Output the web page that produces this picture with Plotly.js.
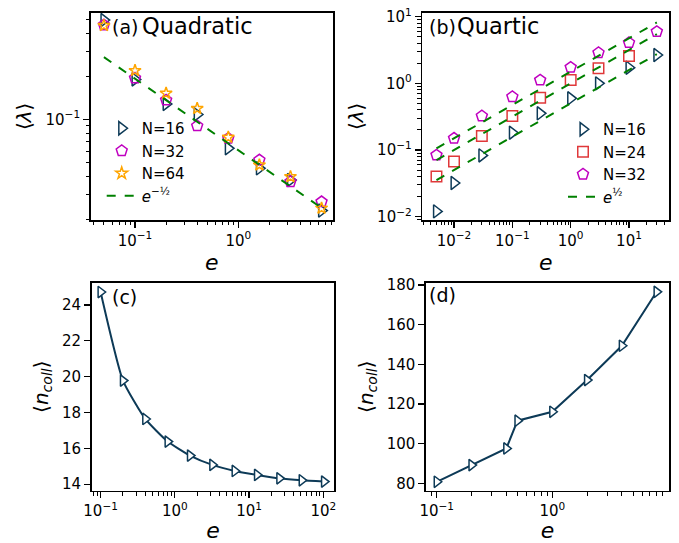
<!DOCTYPE html>
<html><head><meta charset="utf-8">
<script src="https://cdn.plot.ly/plotly-3.0.1.min.js"></script>
<style>html,body{margin:0;padding:0;background:#fff;} #chart{width:679px;height:543px;}</style>
</head><body><div id="chart"></div>
<script>
// ---------- data ----------
// (a) Quadratic
const eA = [0.05, 0.1, 0.2, 0.4, 0.8, 1.6, 3.2, 6.4];
const lamA_N16 = [0.494, 0.19, 0.128, 0.108, 0.0627, 0.0454, 0.0376, 0.023];
const lamA_N32 = [0.456, 0.194, 0.136, 0.0898, 0.0736, 0.0519, 0.0366, 0.0265];
const lamA_N64 = [0.452, 0.219, 0.152, 0.119, 0.0748, 0.0479, 0.0397, 0.0239];
const fitA_x = [0.05, 6.4];
const fitA_y = [0.272, 0.024];
// (b) Quartic
const eB = [0.005, 0.01, 0.03, 0.1, 0.3, 1, 3, 10, 30];
const lamB_N16 = [0.012, 0.032, 0.083, 0.182, 0.355, 0.596, 1.0, 1.72, 2.66];
const eB24 = [0.005, 0.01, 0.03, 0.1, 0.3, 1, 3, 10];
const lamB_N24 = [0.04, 0.067, 0.162, 0.324, 0.61, 1.12, 1.68, 2.57];
const lamB_N32 = [0.084, 0.15, 0.324, 0.63, 1.12, 1.74, 2.88, 4.07, 5.96];
const fitB_x = [0.005, 30];
const fitB_y1 = [0.0354, 2.74];
const fitB_y2 = [0.0707, 5.48];
const fitB_y3 = [0.106, 8.2];
// (c)
const eC = [0.1, 0.2, 0.4, 0.8, 1.6, 3.2, 6.4, 12.8, 25.6, 51.2, 102.4];
const nC = [24.72, 19.78, 17.64, 16.38, 15.6, 15.08, 14.74, 14.52, 14.33, 14.22, 14.15];
// (d)
const eD = [0.1, 0.2, 0.4, 0.5, 1, 2, 4, 8];
const nD = [80.8, 89.2, 97.6, 111.6, 116.1, 132.1, 149.4, 176.6];

// tick labels
const tickAx = [0.1, 1], tickAxText = ['10<sup>−1</sup>', '10<sup>0</sup>'];
const tickAy = [0.1], tickAyText = ['10<sup>−1</sup>'];
const tickBx = [0.01, 0.1, 1, 10], tickBxText = ['10<sup>−2</sup>', '10<sup>−1</sup>', '10<sup>0</sup>', '10<sup>1</sup>'];
const tickBy = [0.01, 0.1, 1, 10], tickByText = ['10<sup>−2</sup>', '10<sup>−1</sup>', '10<sup>0</sup>', '10<sup>1</sup>'];
const tickCx = [0.1, 1, 10, 100], tickCxText = ['10<sup>−1</sup>', '10<sup>0</sup>', '10<sup>1</sup>', '10<sup>2</sup>'];
const tickCy = [14, 16, 18, 20, 22, 24];
const tickDx = [0.1, 1], tickDxText = ['10<sup>−1</sup>', '10<sup>0</sup>'];
const tickDy = [80, 100, 120, 140, 160, 180];

// ---------- styling ----------
const W = 679, H = 543;
const FONT = 'DejaVu Sans';
const NAVY = '#0d3a57', MAG = '#c000c0', ORANGE = '#ffa500', RED = '#e0383a', GREEN = '#008000';
function dx(a, b) { return [a / W, b / W]; }
function dy(top, bottom) { return [1 - bottom / H, 1 - top / H]; }
function minorLog(lo, hi) {
  const out = [];
  for (let p = Math.floor(lo) - 1; p <= Math.ceil(hi); p++) {
    for (let k = 2; k <= 9; k++) {
      const v = k * Math.pow(10, p), l = Math.log10(v);
      if (l >= lo && l <= hi) out.push(v);
    }
  }
  return out;
}
function baseAxis(domain, anchor, tickvals, ticktext) {
  const ax = {
    domain, anchor, showline: true, linecolor: '#000', linewidth: 1.6, mirror: true,
    ticks: 'outside', ticklen: 6, tickwidth: 1.3, tickcolor: '#000',
    tickmode: 'array', tickvals, showgrid: false, zeroline: false,
    tickfont: { family: FONT, size: 15, color: '#000' }
  };
  if (ticktext) ax.ticktext = ticktext;
  return ax;
}
function logAxis(range, domain, anchor, tickvals, ticktext) {
  const ax = baseAxis(domain, anchor, tickvals, ticktext);
  ax.type = 'log';
  ax.range = range;
  ax.minor = { tickmode: 'array', tickvals: minorLog(range[0], range[1]), ticks: 'outside', ticklen: 3.5, tickwidth: 1, tickcolor: '#000', showgrid: false };
  return ax;
}
function linAxis(range, domain, anchor, tickvals) {
  const ax = baseAxis(domain, anchor, tickvals);
  ax.range = range;
  return ax;
}
const xTitle = { text: '<i>e</i>', font: { family: FONT, size: 22, color: '#000' }, standoff: 6 };
function yTitle(t) { return { text: t, font: { family: FONT, size: 20, color: '#000' }, standoff: 8 }; }

const traces = [
  // (a)
  { x: eA, y: lamA_N16, mode: 'markers', name: 'N=16', xaxis: 'x', yaxis: 'y', legend: 'legend',
    marker: { symbol: 'triangle-right-open', size: 11.5, color: NAVY, line: { width: 1.5 } } },
  { x: eA, y: lamA_N32, mode: 'markers', name: 'N=32', xaxis: 'x', yaxis: 'y', legend: 'legend',
    marker: { symbol: 'pentagon-open', size: 11.5, color: MAG, line: { width: 1.5 } } },
  { x: eA, y: lamA_N64, mode: 'markers', name: 'N=64', xaxis: 'x', yaxis: 'y', legend: 'legend',
    marker: { symbol: 'star-open', size: 9, color: ORANGE, line: { width: 1.5 } } },
  { x: fitA_x, y: fitA_y, mode: 'lines', name: '<i>e</i><sup>−½</sup>', xaxis: 'x', yaxis: 'y', legend: 'legend',
    line: { color: GREEN, width: 2, dash: 'dash' } },
  // (b)
  { x: eB, y: lamB_N16, mode: 'markers', name: 'N=16', xaxis: 'x2', yaxis: 'y2', legend: 'legend2',
    marker: { symbol: 'triangle-right-open', size: 11.5, color: NAVY, line: { width: 1.5 } } },
  { x: eB24, y: lamB_N24, mode: 'markers', name: 'N=24', xaxis: 'x2', yaxis: 'y2', legend: 'legend2',
    marker: { symbol: 'square-open', size: 10.5, color: RED, line: { width: 1.5 } } },
  { x: eB, y: lamB_N32, mode: 'markers', name: 'N=32', xaxis: 'x2', yaxis: 'y2', legend: 'legend2',
    marker: { symbol: 'pentagon-open', size: 11.5, color: MAG, line: { width: 1.5 } } },
  { x: fitB_x, y: fitB_y1, mode: 'lines', name: '<i>e</i><sup>½</sup>', xaxis: 'x2', yaxis: 'y2', legend: 'legend2',
    line: { color: GREEN, width: 2, dash: 'dash' } },
  { x: fitB_x, y: fitB_y2, mode: 'lines', showlegend: false, xaxis: 'x2', yaxis: 'y2',
    line: { color: GREEN, width: 2, dash: 'dash' } },
  { x: fitB_x, y: fitB_y3, mode: 'lines', showlegend: false, xaxis: 'x2', yaxis: 'y2',
    line: { color: GREEN, width: 2, dash: 'dash' } },
  // (c)
  { x: eC, y: nC, mode: 'lines+markers', showlegend: false, xaxis: 'x3', yaxis: 'y3',
    line: { color: NAVY, width: 2, shape: 'spline', smoothing: 0.5 },
    marker: { symbol: 'triangle-right', size: 10, color: '#fff', line: { color: NAVY, width: 1.5 } } },
  // (d)
  { x: eD, y: nD, mode: 'lines+markers', showlegend: false, xaxis: 'x4', yaxis: 'y4',
    line: { color: NAVY, width: 2 },
    marker: { symbol: 'triangle-right', size: 10, color: '#fff', line: { color: NAVY, width: 1.5 } } }
];

const legendBase = { xanchor: 'left', yanchor: 'top', bgcolor: 'rgba(0,0,0,0)', borderwidth: 0,
  font: { family: FONT, size: 15, color: '#000' }, tracegroupgap: 0 };

const layout = {
  width: W, height: H, margin: { l: 0, r: 0, t: 0, b: 0 },
  paper_bgcolor: '#fff', plot_bgcolor: '#fff',
  font: { family: FONT, color: '#000' },
  xaxis: Object.assign(logAxis([-1.429, 0.917], dx(90.7, 333), 'y', tickAx, tickAxText), { title: xTitle }),
  yaxis: Object.assign(logAxis([-1.704, -0.255], dy(12.7, 220), 'x', tickAy, tickAyText), { title: yTitle('⟨<i>λ</i>⟩') }),
  xaxis2: Object.assign(logAxis([-2.544, 1.686], dx(422.3, 669), 'y2', tickBx, tickBxText), { title: xTitle }),
  yaxis2: Object.assign(logAxis([-2.05, 1.06], dy(12.7, 220), 'x2', tickBy, tickByText), { title: yTitle('⟨<i>λ</i>⟩') }),
  xaxis3: Object.assign(logAxis([-1.12, 2.148], dx(91.7, 334.3), 'y3', tickCx, tickCxText), { title: xTitle }),
  yaxis3: Object.assign(linAxis([13.64, 25.24], dy(282.7, 490.7), 'x3', tickCy), { title: yTitle('⟨<i>n</i><sub><i>coll</i></sub>⟩') }),
  xaxis4: Object.assign(logAxis([-1.093, 1.01], dx(426, 669), 'y4', tickDx, tickDxText), { title: xTitle }),
  yaxis4: Object.assign(linAxis([76.3, 181.2], dy(282.7, 490.7), 'x4', tickDy), { title: yTitle('⟨<i>n</i><sub><i>coll</i></sub>⟩') }),
  legend: Object.assign({ x: 101.7 / W, y: 1 - 112 / H }, legendBase),
  legend2: Object.assign({ x: 563 / W, y: 1 - 113 / H }, legendBase),
  annotations: [
    { text: '(a)', xref: 'paper', yref: 'paper', x: 110 / W, y: 1 - 26.5 / H, xanchor: 'left', yanchor: 'middle', showarrow: false, font: { family: FONT, size: 19, color: '#000' } },
    { text: 'Quadratic', xref: 'paper', yref: 'paper', x: 140 / W, y: 1 - 26 / H, xanchor: 'left', yanchor: 'middle', showarrow: false, font: { family: FONT, size: 22.5, color: '#000' } },
    { text: '(b)', xref: 'paper', yref: 'paper', x: 427 / W, y: 1 - 26.5 / H, xanchor: 'left', yanchor: 'middle', showarrow: false, font: { family: FONT, size: 19, color: '#000' } },
    { text: 'Quartic', xref: 'paper', yref: 'paper', x: 455 / W, y: 1 - 26 / H, xanchor: 'left', yanchor: 'middle', showarrow: false, font: { family: FONT, size: 22.5, color: '#000' } },
    { text: '(c)', xref: 'paper', yref: 'paper', x: 110 / W, y: 1 - 297 / H, xanchor: 'left', yanchor: 'middle', showarrow: false, font: { family: FONT, size: 19, color: '#000' } },
    { text: '(d)', xref: 'paper', yref: 'paper', x: 427 / W, y: 1 - 295 / H, xanchor: 'left', yanchor: 'middle', showarrow: false, font: { family: FONT, size: 19, color: '#000' } }
  ]
};

Plotly.newPlot('chart', traces, layout, { displayModeBar: false, staticPlot: true });
</script>
</body></html>
